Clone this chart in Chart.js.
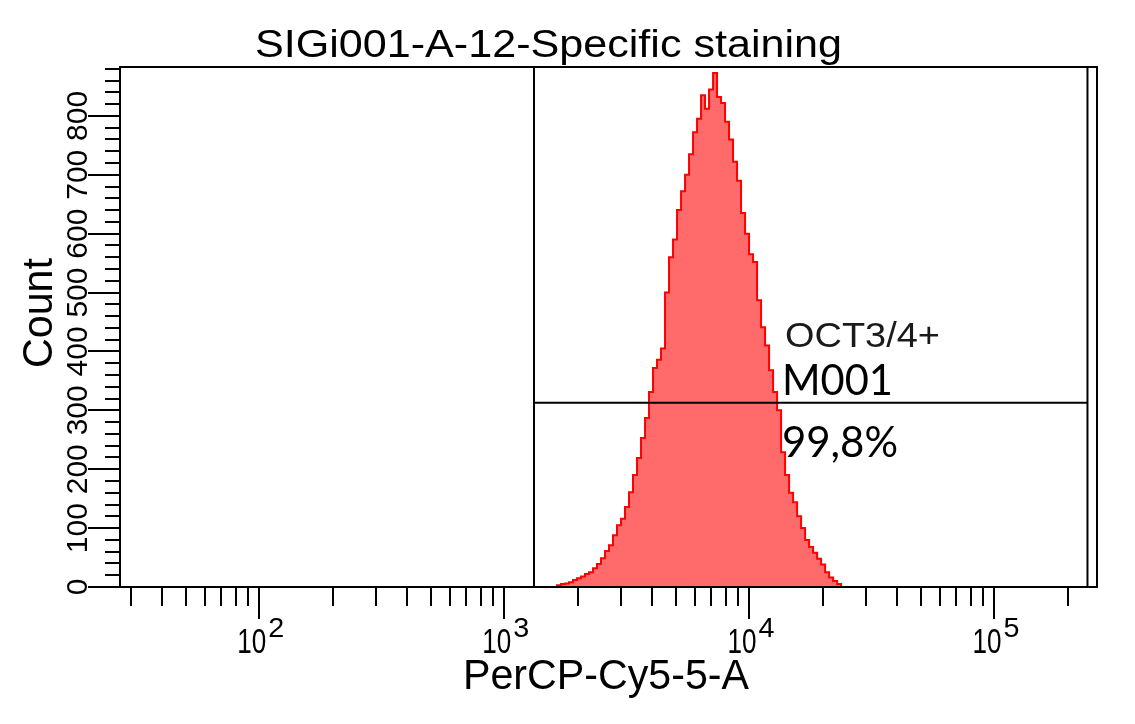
<!DOCTYPE html>
<html lang="en">
<head>
<meta charset="UTF-8">
<title>SIGi001-A-12-Specific staining</title>
<script src="https://cdn.jsdelivr.net/npm/chart.js"></script>
<style>
  html, body { margin: 0; padding: 0; background: #fff; }
  #wrap { width: 1135px; height: 724px; position: relative; }
</style>
</head>
<body>
<div id="wrap"><canvas id="histChart"></canvas></div>
<script>
// PerCP-Cy5-5-A bin centres and event counts
const binCenters = [
  1609, 1671, 1735, 1801, 1870, 1942, 2016, 2093, 2174, 2257,
  2343, 2433, 2526, 2623, 2724, 2828, 2936, 3049, 3166, 3287,
  3413, 3544, 3680, 3821, 3967, 4119, 4277, 4441, 4611, 4788,
  4971, 5162, 5360, 5565, 5778, 6000, 6230, 6468, 6716, 6974,
  7241, 7518, 7806, 8105, 8416, 8738, 9073, 9421, 9782, 10157,
  10546, 10950, 11370, 11806, 12258, 12728, 13216, 13722, 14248, 14794,
  15361, 15950, 16561, 17196, 17855, 18539, 19250, 19988, 20754, 21549,
  22375, 23233, 24123
];
const counts = [
  0, 3, 5, 6, 8, 12, 15, 18, 22, 25,
  32, 39, 49, 61, 71, 88, 105, 116, 136, 161,
  190, 219, 253, 287, 331, 372, 386, 405, 500, 560,
  590, 640, 672, 700, 735, 772, 795, 835, 812, 845,
  873, 832, 822, 790, 760, 722, 690, 635, 600, 565,
  552, 487, 441, 410, 368, 331, 300, 229, 190, 160,
  144, 120, 100, 80, 68, 58, 48, 38, 25, 16,
  10, 5, 0
];

// axis ranges and ticks
const xRange = [27, 262144];
const yRange = [0, 883];
const xMajorTicks = [100, 1000, 10000, 100000];
const xMajorExponents = ['2', '3', '4', '5'];
const yMajorTicks = [0, 100, 200, 300, 400, 500, 600, 700, 800];
const yTickLabels = ['0', '100', '200', '300', '400', '500', '600', '700', '800'];

// M001 marker gate
const gateRange = [1321, 239700];
const gateLevel = 313;

const SANS = '"Liberation Sans", Arial, sans-serif';

// stretch text horizontally to the width it has in the original
function fitText(ctx, text, x, y, width, align) {
  const w = ctx.measureText(text).width;
  ctx.save();
  ctx.translate(x, y);
  ctx.scale(width / w, 1);
  ctx.textAlign = align;
  ctx.fillText(text, 0, 0);
  ctx.restore();
}

const cytoAxes = {
  id: 'cytoAxes',
  afterDatasetsDraw(chart) {
    const { ctx, chartArea: a, scales: { x, y } } = chart;
    ctx.save();
    ctx.strokeStyle = '#000';
    ctx.fillStyle = '#000';
    ctx.lineWidth = 2;

    // gate lines sit on top of the histogram
    const gx0 = x.getPixelForValue(gateRange[0]);
    const gx1 = x.getPixelForValue(gateRange[1]);
    const gy = y.getPixelForValue(gateLevel);
    ctx.beginPath();
    ctx.moveTo(gx0, a.top); ctx.lineTo(gx0, a.bottom);
    ctx.moveTo(gx1, a.top); ctx.lineTo(gx1, a.bottom);
    ctx.moveTo(gx0, gy); ctx.lineTo(gx1, gy);
    ctx.stroke();

    ctx.strokeRect(a.left, a.top, a.right - a.left, a.bottom - a.top);

    // x ticks: decades plus 2..9 minors
    ctx.beginPath();
    for (let dec = 10; dec <= 100000; dec *= 10) {
      for (let m = 1; m <= 9; m++) {
        const v = dec * m;
        if (v < xRange[0] || v > xRange[1]) continue;
        const px = Math.round(x.getPixelForValue(v));
        const len = m === 1 ? 32 : 19;
        ctx.moveTo(px, a.bottom);
        ctx.lineTo(px, a.bottom + len);
      }
    }
    // y ticks every 20, major every 100
    for (let v = 0; v <= yRange[1]; v += 20) {
      const py = Math.round(y.getPixelForValue(v));
      const len = yMajorTicks.includes(v) ? 32 : 15;
      ctx.moveTo(a.left, py);
      ctx.lineTo(a.left - len, py);
    }
    ctx.stroke();

    // x tick labels 10^n
    ctx.textBaseline = 'alphabetic';
    xMajorTicks.forEach((v, i) => {
      const px = x.getPixelForValue(v);
      ctx.font = '35px ' + SANS;
      fitText(ctx, '10', px - 22, a.bottom + 66, 29, 'left');
      ctx.font = '28px ' + SANS;
      fitText(ctx, xMajorExponents[i], px + 9, a.bottom + 50, 16, 'left');
    });

    // y tick labels, rotated
    ctx.font = '30px ' + SANS;
    yMajorTicks.forEach((v, i) => {
      const py = y.getPixelForValue(v);
      ctx.save();
      ctx.translate(a.left - 33, py);
      ctx.rotate(-Math.PI / 2);
      ctx.textAlign = 'center';
      ctx.fillText(yTickLabels[i], 0, 0);
      ctx.restore();
    });
    ctx.restore();
  },
  afterDraw(chart) {
    const { ctx, chartArea: a } = chart;
    ctx.save();
    ctx.fillStyle = '#000';
    ctx.textBaseline = 'alphabetic';

    ctx.font = '38px ' + SANS;
    fitText(ctx, 'SIGi001-A-12-Specific staining', 548.5, a.top - 10, 587, 'center');

    ctx.font = '42px ' + SANS;
    fitText(ctx, 'PerCP-Cy5-5-A', 463, a.bottom + 102, 286, 'left');

    ctx.save();
    ctx.translate(52, 313);
    ctx.rotate(-Math.PI / 2);
    fitText(ctx, 'Count', 0, 0, 110, 'center');
    ctx.restore();

    // marker annotation
    ctx.fillStyle = '#1a1a1a';
    ctx.font = '35px ' + SANS;
    fitText(ctx, 'OCT3/4+', 785, 347, 155, 'left');
    ctx.fillStyle = '#000';
    ctx.font = '42px Lato, "Open Sans", sans-serif';
    fitText(ctx, 'M001', 782, 395, 111, 'left');
    fitText(ctx, '99,8%', 782, 457, 116, 'left');
    ctx.restore();
  }
};

const ctx = document.getElementById('histChart').getContext('2d');
const histChart = new Chart(ctx, {
  type: 'line',
  data: {
    datasets: [{
      label: 'Count',
      data: binCenters.map((v, i) => ({ x: v, y: counts[i] })),
      stepped: 'middle',
      fill: 'origin',
      backgroundColor: 'rgb(255, 107, 107)',
      borderColor: '#ff0000',
      borderWidth: 2,
      pointRadius: 0
    }]
  },
  options: {
    responsive: true,
    maintainAspectRatio: false,
    animation: false,
    layout: { padding: { left: 120, right: 38, top: 67, bottom: 137 } },
    plugins: {
      legend: { display: false },
      tooltip: { enabled: false }
    },
    scales: {
      x: { type: 'logarithmic', min: xRange[0], max: xRange[1], display: false },
      y: { type: 'linear', min: yRange[0], max: yRange[1], display: false }
    }
  },
  plugins: [cytoAxes]
});
</script>
</body>
</html>
